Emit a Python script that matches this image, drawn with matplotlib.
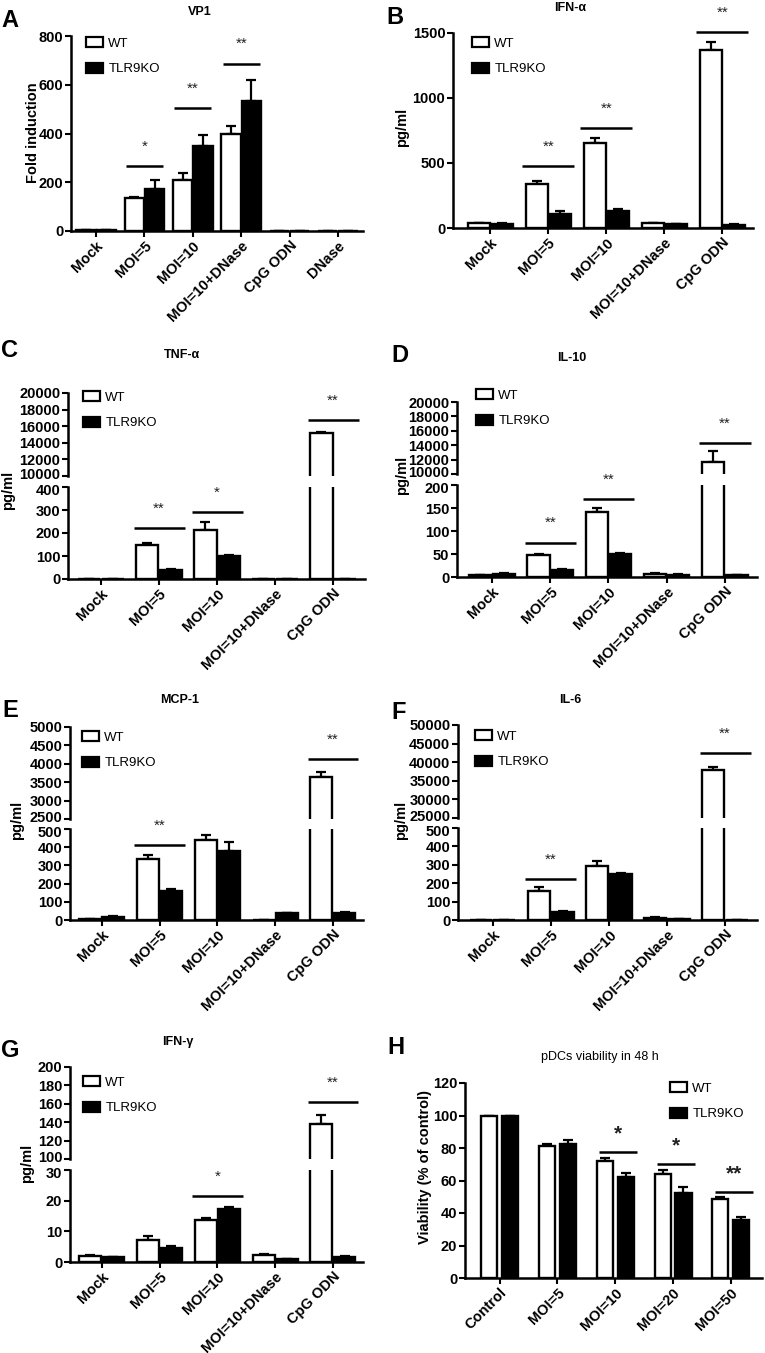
import matplotlib
matplotlib.use('Agg')
import matplotlib.pyplot as plt
import matplotlib.transforms as mtrans
import numpy as np
from matplotlib.patches import Rectangle

plt.rcParams['font.family'] = ['Liberation Sans', 'DejaVu Sans']
plt.rcParams['font.weight'] = 'bold'

# ---- data ----
cats6 = ['Mock', 'MOI=5', 'MOI=10', 'MOI=10+DNase', 'CpG ODN', 'DNase']
cats5 = ['Mock', 'MOI=5', 'MOI=10', 'MOI=10+DNase', 'CpG ODN']
cats_h = ['Control', 'MOI=5', 'MOI=10', 'MOI=20', 'MOI=50']

vp1_wt = [3, 135, 210, 400, 2, 2]
vp1_wt_err = [0, 5, 30, 30, 0, 0]
vp1_ko = [3, 172, 350, 535, 2, 2]
vp1_ko_err = [0, 37, 44, 86, 0, 0]

ifna_wt = [35, 342, 651, 35, 1371]
ifna_wt_err = [3, 21, 38, 3, 59]
ifna_ko = [33, 110, 129, 30, 20]
ifna_ko_err = [3, 19, 20, 4, 8]

tnfa_wt = [0, 150, 212, 0, 15200]
tnfa_wt_err = [0, 6, 38, 0, 150]
tnfa_ko = [0, 40, 100, 0, 0]
tnfa_ko_err = [0, 4, 4, 0, 0]

il10_wt = [4, 47, 142, 7, 11600]
il10_wt_err = [1, 3, 9, 1, 1600]
il10_ko = [7, 15, 49, 5, 4]
il10_ko_err = [1, 2, 3, 1, 1]

mcp1_wt = [5, 335, 441, 0, 3630]
mcp1_wt_err = [2, 20, 24, 0, 160]
mcp1_ko = [18, 160, 377, 37, 37]
mcp1_ko_err = [3, 10, 53, 4, 5]

il6_wt = [0, 160, 295, 9, 38000]
il6_wt_err = [0, 22, 27, 6, 650]
il6_ko = [0, 45, 250, 5, 0]
il6_ko_err = [0, 6, 6, 1, 0]

ifng_wt = [1.9, 7.1, 13.6, 2.2, 138]
ifng_wt_err = [0.4, 1.3, 0.6, 0.3, 10]
ifng_ko = [1.6, 4.6, 17.2, 1.0, 1.6]
ifng_ko_err = [0.1, 0.5, 0.6, 0.1, 0.2]

via_wt = [100, 81, 72, 64, 48.4]
via_wt_err = [0, 1.5, 1.8, 2.2, 1.6]
via_ko = [100, 82.5, 62.4, 52.5, 35.6]
via_ko_err = [0, 2.2, 2.4, 3.8, 2.0]

# significance: (category, line level, stars)
sig_a = [(1, 265, '*'), (2, 503, '**'), (3, 687, '**')]
sig_b = [(1, 480, '**'), (2, 767, '**'), (4, 1505, '**')]
sig_c = [(1, 220, '**'), (2, 292, '*'), (4, 16700, '**')]
sig_d = [(1, 75, '**'), (2, 169, '**'), (4, 14300, '**')]
sig_e = [(1, 410, '**'), (4, 4140, '**')]
sig_f = [(1, 222, '**'), (4, 42400, '**')]
sig_g = [(2, 21.5, '*'), (4, 161.5, '**')]
sig_h = [(2, 77.8, '*'), (3, 70.2, '*'), (4, 53.1, '**')]

W, H = 765, 1353
fig = plt.figure(figsize=(W / 100, H / 100), dpi=100)


def add_ax(l, t, r, b):
    return fig.add_axes([l / W, 1 - b / H, (r - l) / W, (b - t) / H])


def ftext(x, y, s, **kw):
    fig.text(x / W, 1 - y / H, s, **kw)


def style(ax, bottom=True):
    ax.spines['top'].set_visible(False)
    ax.spines['right'].set_visible(False)
    ax.spines['left'].set_linewidth(1.8)
    ax.spines['bottom'].set_linewidth(1.8)
    ax.tick_params(width=1.5, length=4, labelsize=10.5, pad=1.5)
    if not bottom:
        ax.spines['bottom'].set_visible(False)
        ax.tick_params(axis='x', bottom=False, labelbottom=False)


def bars(ax, wt, wt_err, ko, ko_err, off=0.2, w=0.38):
    x = np.arange(len(wt))
    z = np.zeros(len(wt))
    ax.errorbar(x - off, wt, yerr=[z, wt_err], fmt='none', ecolor='black',
                elinewidth=1.6, capsize=3.5, capthick=1.6, zorder=1)
    ax.errorbar(x + off, ko, yerr=[z, ko_err], fmt='none', ecolor='black',
                elinewidth=1.6, capsize=3.5, capthick=1.6, zorder=1)
    ax.bar(x - off, wt, w, color='white', edgecolor='black', linewidth=1.7, zorder=2)
    ax.bar(x + off, ko, w, color='black', edgecolor='black', linewidth=1.7, zorder=2)


def stars(ax, sig, half=0.44, shift=0.0, fs=11, weight='normal', dy=11):
    for c, y, s in sig:
        ax.plot([c - half + shift, c + half + shift], [y, y], color='black',
                lw=1.8, clip_on=False, solid_capstyle='butt')
        ax.annotate(s, xy=(c + shift, y), xytext=(0, dy), textcoords='offset points',
                    ha='center', va='baseline', fontsize=fs, fontweight=weight,
                    color='#222222', annotation_clip=False)


def legend(ax, x, y):
    h = [Rectangle((0, 0), 1, 1, facecolor='white', edgecolor='black', linewidth=1.6),
         Rectangle((0, 0), 1, 1, facecolor='black', edgecolor='black', linewidth=1.6)]
    ax.legend(h, ['WT', 'TLR9KO'], loc='upper left', bbox_to_anchor=(x / W, 1 - y / H),
              bbox_transform=fig.transFigure, frameon=False, borderpad=0,
              borderaxespad=0, handlelength=1.3, handleheight=0.8,
              handletextpad=0.4, labelspacing=1.0, prop={'size': 9.5, 'weight': 'normal'})


def xlabels(ax, cats):
    ax.set_xticks(range(len(cats)))
    ax.set_xticklabels(cats, rotation=45, ha='right', rotation_mode='anchor', fontsize=10.5)


def nudge(label, px):
    label.set_transform(label.get_transform() +
                        mtrans.ScaledTranslation(0, px / 100, fig.dpi_scale_trans))


def simple_panel(box, xlim, ylim, yticks, cats, wt, wte, ko, koe, leg, **kw):
    ax = add_ax(*box)
    style(ax)
    bars(ax, wt, wte, ko, koe, **kw)
    ax.set_xlim(*xlim)
    ax.set_ylim(*ylim)
    ax.set_yticks(yticks)
    xlabels(ax, cats)
    legend(ax, *leg)
    return ax


def broken_panel(l, r, up, lo, xlim, ylim_up, ylim_lo, ticks_up, ticks_lo,
                 cats, wt, wte, ko, koe, sig, leg):
    au = add_ax(l, up[0], r, up[1])
    al = add_ax(l, lo[0], r, lo[1])
    style(au, bottom=False)
    style(al)
    for ax, yl, yt in ((au, ylim_up, ticks_up), (al, ylim_lo, ticks_lo)):
        bars(ax, wt, wte, ko, koe)
        ax.set_xlim(*xlim)
        ax.set_ylim(*yl)
        ax.set_yticks(yt)
    # pull the two labels at the break apart a little
    nudge(au.yaxis.get_major_ticks()[0].label1, 2.5)
    nudge(al.yaxis.get_major_ticks()[-1].label1, -2.5)
    xlabels(al, cats)
    stars(al, [s for s in sig if s[1] <= ylim_lo[1]])
    stars(au, [s for s in sig if s[1] > ylim_lo[1]])
    legend(au, *leg)
    return au, al


# A: VP1
ax = simple_panel((71, 36, 363, 231), (-0.52, 5.52), (0, 800), [0, 200, 400, 600, 800],
                  cats6, vp1_wt, vp1_wt_err, vp1_ko, vp1_ko_err, (86, 37), off=0.21, w=0.4)
stars(ax, sig_a, half=0.38)

# B: IFN-alpha
ax = simple_panel((453, 33, 753, 228), (-0.64, 4.53), (0, 1500), [0, 500, 1000, 1500],
                  cats5, ifna_wt, ifna_wt_err, ifna_ko, ifna_ko_err, (472, 37))
stars(ax, sig_b, half=0.45)

# C: TNF-alpha
broken_panel(68, 365, (393, 476), (487, 579), (-0.57, 4.55), (10000, 20000), (0, 400),
             np.arange(10000, 20001, 2000), np.arange(0, 401, 100), cats5,
             tnfa_wt, tnfa_wt_err, tnfa_ko, tnfa_ko_err, sig_c, (83, 391))

# D: IL-10
broken_panel(457, 757, (402, 474), (485, 577), (-0.6, 4.55), (10000, 20000), (0, 200),
             np.arange(10000, 20001, 2000), np.arange(0, 201, 50), cats5,
             il10_wt, il10_wt_err, il10_ko, il10_ko_err, sig_d, (476, 389))

# E: MCP-1
broken_panel(70, 363, (727, 819), (829, 920), (-0.55, 4.52), (2500, 5000), (0, 500),
             np.arange(2500, 5001, 500), np.arange(0, 501, 100), cats5,
             mcp1_wt, mcp1_wt_err, mcp1_ko, mcp1_ko_err, sig_e, (82, 731))

# F: IL-6
broken_panel(458, 757, (725, 818), (828, 920), (-0.6, 4.55), (25000, 50000), (0, 500),
             np.arange(25000, 50001, 5000), np.arange(0, 501, 100), cats5,
             il6_wt, il6_wt_err, il6_ko, il6_ko_err, sig_f, (475, 730))

# G: IFN-gamma
broken_panel(70, 363, (1067, 1159), (1170, 1262), (-0.55, 4.52), (100, 200), (0, 30),
             np.arange(100, 201, 20), np.arange(0, 31, 10), cats5,
             ifng_wt, ifng_wt_err, ifng_ko, ifng_ko_err, sig_g, (83, 1076))

# H: viability
ax = simple_panel((465, 1083, 762, 1278), (-0.6, 4.54), (0, 120), np.arange(0, 121, 20),
                  cats_h, via_wt, via_wt_err, via_ko, via_ko_err, (670, 1082),
                  off=0.18, w=0.28)
stars(ax, sig_h, half=0.33, shift=0.05, fs=15, weight='bold', dy=9)

# panel letters, titles, y labels
for x, y, s in [(1, 9, 'A'), (386, 6, 'B'), (1, 339, 'C'), (391, 344, 'D'),
                (2, 699, 'E'), (391, 701, 'F'), (1, 1039, 'G'), (387, 1036, 'H')]:
    ftext(x, y, s, fontsize=17, fontweight='bold', ha='left', va='top')

for x, y, s in [(200, 12, 'VP1'), (570, 8, 'IFN-α'), (182, 355, 'TNF-α'), (572, 358, 'IL-10'),
                (180, 700, 'MCP-1'), (570, 700, 'IL-6'), (178, 1042, 'IFN-γ')]:
    ftext(x, y, s, fontsize=9, fontweight='bold', ha='center', va='center')
ftext(600, 1057, 'pDCs viability in 48 h', fontsize=9, fontweight='normal',
      ha='center', va='center')

for x, y, s in [(33, 133, 'Fold induction'), (402, 127, 'pg/ml'), (8, 490, 'pg/ml'),
                (402, 475, 'pg/ml'), (17, 820, 'pg/ml'), (401, 820, 'pg/ml'),
                (27, 1163, 'pg/ml'), (425, 1167, 'Viability (% of control)')]:
    ftext(x, y, s, fontsize=10.5, fontweight='bold', ha='center', va='center', rotation=90)

fig.savefig('out.png', dpi=100)
